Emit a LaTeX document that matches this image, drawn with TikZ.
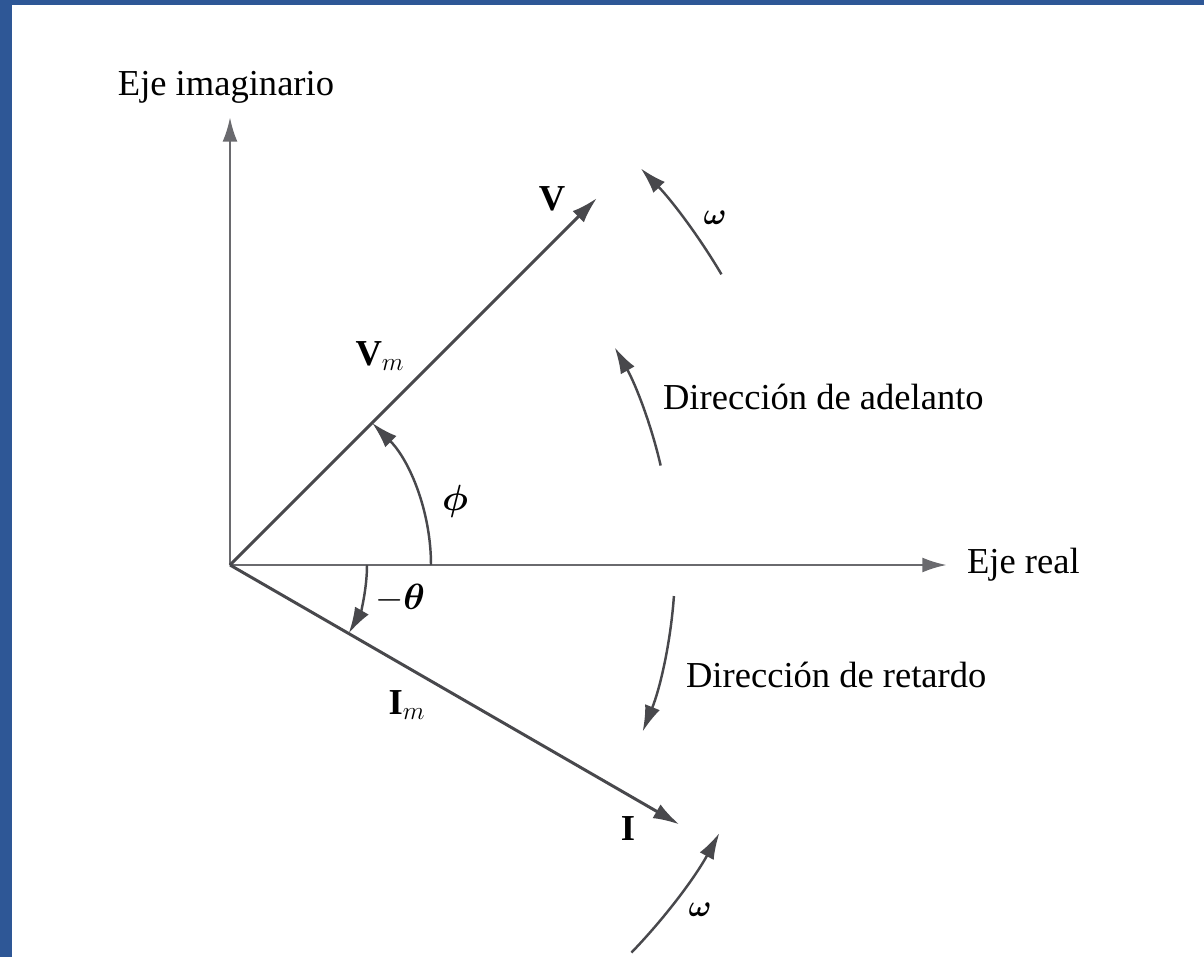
\documentclass[tikz,border=0pt]{standalone}
\usepackage{amsmath,amssymb}
\usepackage{fontspec}
\setmainfont{Liberation Serif}
\usetikzlibrary{arrows.meta}
\definecolor{frameblue}{HTML}{2E5796}
\definecolor{vecgray}{HTML}{48484C}
\definecolor{axisgray}{HTML}{6A6A6E}

\begin{document}
\begin{tikzpicture}[x=0.02cm,y=0.02cm,
  axis/.style={axisgray,line width=1.6pt,-{Latex[length=14pt,width=8.5pt]}},
  vec/.style={vecgray,line width=1.7pt,-{Latex[length=15pt,width=9pt]}},
  turn/.style={vecgray,line width=1.4pt,-{Latex[length=15pt,width=9pt]}},
  lbl/.style={font=\fontsize{20.8}{24}\selectfont,inner sep=1pt},
  wlbl/.style={font=\fontsize{16}{18}\selectfont,inner sep=1pt}]
  \useasboundingbox (-230,-392) rectangle (974,565);
  % frame
  \fill[frameblue] (-230,-392) rectangle (-218,565);
  \fill[frameblue] (-230,560) rectangle (974,565);
  % axes
  \coordinate (O) at (0,0);
  \coordinate (Re) at (717,0);
  \coordinate (Im) at (0,448);
  \draw[axis] (O) -- (Re);
  \draw[axis] (O) -- (Im);
  \node[lbl,anchor=west] (relbl) at (735,0) {Eje real};
  \node[lbl] (imlbl) at (-4,478) {Eje imaginario};
  % phasors
  \coordinate (V) at (45:519);
  \coordinate (I) at (-30:519);
  \draw[vec] (O) -- (V);
  \draw[vec] (O) -- (I);
  \node[lbl] (vlbl) at (322,366) {$\mathbf{V}$};
  \node[lbl] (vmlbl) at (150,209) {$\mathbf{V}_{m}$};
  \node[lbl] (ilbl) at (398,-264) {$\mathbf{I}$};
  \node[lbl] (imag) at (177,-140) {$\mathbf{I}_{m}$};
  % angles
  \draw[turn] (0:201) arc (0:45:201);
  \draw[turn] (0:137) arc (0:-30:137);
  \node[lbl] (phi) at (225,64) {$\boldsymbol{\phi}$};
  \node[lbl] (theta) at (170,-33) {$-\boldsymbol{\theta}$};
  % rotation
  \draw[turn] (13:442) arc (13:29.5:442);
  \draw[turn] (-4:445) arc (-4:-22:445);
  \draw[turn] (30.6:571) arc (30.6:44:571);
  \draw[turn] (-44:558) arc (-44:-28.7:558);
  \node[lbl,anchor=west] (lead) at (431,168) {Dirección de adelanto};
  \node[lbl,anchor=west] (lag) at (454,-110) {Dirección de retardo};
  \node[wlbl] (wtop) at (485,347) {$\boldsymbol{\omega}$};
  \node[wlbl] (wbot) at (470,-345) {$\boldsymbol{\omega}$};
\end{tikzpicture}
\end{document}
